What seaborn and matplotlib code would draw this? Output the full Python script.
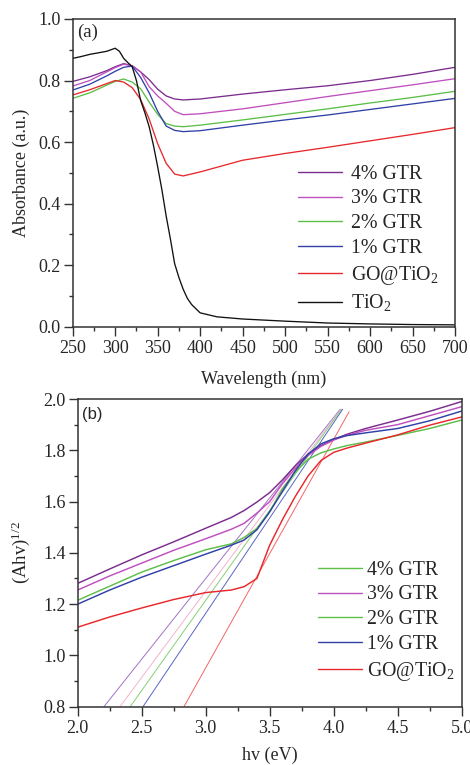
import numpy as np
import pandas as pd
import matplotlib
matplotlib.use("Agg")
import matplotlib.pyplot as plt
import seaborn as sns
from matplotlib.lines import Line2D
from matplotlib.ticker import MultipleLocator, FormatStrFormatter

# ---------------- data: panel (a) ----------------
wl = [250, 270, 290, 300, 310, 320, 330, 340, 350, 360, 370, 380, 400, 450, 500, 550, 600, 650, 700]
abs_4 = [0.797, 0.812, 0.832, 0.845, 0.855, 0.848, 0.828, 0.803, 0.772, 0.750, 0.740, 0.737, 0.740, 0.756, 0.770, 0.783, 0.800, 0.820, 0.843]
abs_3 = [0.782, 0.800, 0.828, 0.842, 0.853, 0.848, 0.828, 0.780, 0.750, 0.726, 0.700, 0.689, 0.692, 0.708, 0.728, 0.748, 0.767, 0.786, 0.806]
abs_2 = [0.742, 0.760, 0.785, 0.797, 0.805, 0.795, 0.773, 0.730, 0.690, 0.660, 0.652, 0.650, 0.655, 0.672, 0.690, 0.708, 0.727, 0.745, 0.765]
abs_1 = [0.769, 0.788, 0.815, 0.830, 0.843, 0.847, 0.810, 0.760, 0.700, 0.652, 0.638, 0.634, 0.637, 0.655, 0.672, 0.688, 0.706, 0.724, 0.742]
abs_go = [0.753, 0.770, 0.790, 0.800, 0.795, 0.777, 0.738, 0.675, 0.595, 0.531, 0.496, 0.490, 0.503, 0.541, 0.563, 0.583, 0.604, 0.625, 0.647]

wl_tio2 = [250, 260, 270, 280, 290, 300, 305, 310, 315, 320, 325, 330, 335, 340, 345, 350, 355, 360,
           365, 370, 375, 380, 385, 390, 400, 420, 450, 500, 550, 600, 650, 700]
abs_tio2 = [0.872, 0.878, 0.885, 0.890, 0.895, 0.905, 0.895, 0.872, 0.858, 0.845, 0.800, 0.735, 0.695, 0.650,
            0.590, 0.520, 0.445, 0.360, 0.285, 0.205, 0.160, 0.122, 0.092, 0.072, 0.045, 0.032, 0.025, 0.018,
            0.012, 0.009, 0.007, 0.006]

labels_a = ["4% GTR", "3% GTR", "2% GTR", "1% GTR", "GO@TiO$_2$", "TiO$_2$"]
colors_a = ["#7B2D8E", "#C04FBF", "#5CBF47", "#3041A8", "#E8282B", "#111111"]

# ---------------- data: panel (b) ----------------
hv = [2.0, 2.25, 2.5, 2.75, 3.0, 3.2, 3.3, 3.4, 3.5, 3.6, 3.7, 3.8, 3.9, 4.0, 4.1, 4.25, 4.5, 4.75, 5.0]
tauc_4 = [1.281, 1.337, 1.392, 1.443, 1.496, 1.538, 1.565, 1.598, 1.635, 1.685, 1.740, 1.785, 1.818, 1.842, 1.862, 1.885, 1.918, 1.952, 1.990]
tauc_3 = [1.255, 1.310, 1.360, 1.410, 1.455, 1.492, 1.515, 1.555, 1.600, 1.670, 1.730, 1.780, 1.815, 1.840, 1.858, 1.878, 1.900, 1.935, 1.970]
tauc_2 = [1.215, 1.270, 1.325, 1.370, 1.412, 1.435, 1.460, 1.495, 1.560, 1.650, 1.715, 1.765, 1.790, 1.805, 1.818, 1.832, 1.858, 1.885, 1.918]
tauc_1 = [1.200, 1.255, 1.305, 1.350, 1.395, 1.430, 1.450, 1.490, 1.560, 1.640, 1.720, 1.785, 1.825, 1.845, 1.857, 1.868, 1.885, 1.915, 1.953]
tauc_go = [1.110, 1.150, 1.185, 1.218, 1.245, 1.255, 1.268, 1.300, 1.430, 1.530, 1.620, 1.700, 1.760, 1.792, 1.808, 1.828, 1.860, 1.898, 1.930]

# linear-fit (tangent) lines: start at y = 0.8 (band gap), end near the top
tan_x0 = [2.205, 2.33, 2.41, 2.51, 2.83]
tan_y0 = [0.8, 0.8, 0.8, 0.8, 0.8]
tan_x1 = [4.05, 4.055, 4.06, 4.07, 4.12]
tan_y1 = [1.96, 1.96, 1.96, 1.96, 1.95]

labels_b = ["4% GTR", "3% GTR", "2% GTR", "1% GTR", "GO@TiO$_2$"]
colors_b = ["#7B2D8E", "#C04FBF", "#5CBF47", "#3041A8", "#E8282B"]
tan_colors = ["#A274C4", "#F3B4CB", "#86CF77", "#5566C2", "#F26666"]
legend_colors_b = ["#5CBF47", "#C04FBF", "#5CBF47", "#3041A8", "#E8282B"]

# ---------------- style ----------------
sns.set_theme(style="ticks")
plt.rcParams["font.family"] = ["Liberation Serif", "DejaVu Serif"]
plt.rcParams["mathtext.fontset"] = "custom"
plt.rcParams["mathtext.rm"] = "Liberation Serif"
plt.rcParams["mathtext.default"] = "regular"

fig = plt.figure(figsize=(4.70, 7.65), dpi=100)
ax1 = fig.add_axes([72.7 / 470, 1 - 326.7 / 765, 382.3 / 470, 307.7 / 765])
ax2 = fig.add_axes([77.7 / 470, 1 - 706.7 / 765, 384.0 / 470, 307.7 / 765])

# panel (a)
series_a = [abs_4, abs_3, abs_2, abs_1, abs_go]
frames = []
for lab, vals in zip(labels_a[:5], series_a):
    frames.append(pd.DataFrame({"wl": wl, "A": vals, "s": lab}))
frames.append(pd.DataFrame({"wl": wl_tio2, "A": abs_tio2, "s": labels_a[5]}))
dfa = pd.concat(frames, ignore_index=True)
sns.lineplot(data=dfa, x="wl", y="A", hue="s", hue_order=labels_a,
             palette=dict(zip(labels_a, colors_a)), estimator=None, sort=False,
             linewidth=0.95, ax=ax1, legend=False)

# panel (b)
series_b = [tauc_4, tauc_3, tauc_2, tauc_1, tauc_go]
dfb = pd.concat([pd.DataFrame({"hv": hv, "T": v, "s": l}) for l, v in zip(labels_b, series_b)],
                ignore_index=True)
tan_rows = []
for l, x0, y0, x1, y1 in zip(labels_b, tan_x0, tan_y0, tan_x1, tan_y1):
    tan_rows.append(pd.DataFrame({"hv": [x0, x1], "T": [y0, y1], "s": l}))
dft = pd.concat(tan_rows, ignore_index=True)
sns.lineplot(data=dft, x="hv", y="T", hue="s", hue_order=labels_b,
             palette=dict(zip(labels_b, tan_colors)), estimator=None, sort=False,
             linewidth=0.7, ax=ax2, legend=False)
sns.lineplot(data=dfb, x="hv", y="T", hue="s", hue_order=labels_b,
             palette=dict(zip(labels_b, colors_b)), estimator=None, sort=False,
             linewidth=1.05, ax=ax2, legend=False)

# axes formatting
for ax in (ax1, ax2):
    for sp in ax.spines.values():
        sp.set_visible(True)
        sp.set_linewidth(1.1)
        sp.set_color("#333333")
    ax.tick_params(which="major", direction="out", length=6.5, width=1.0, color="#333333",
                   labelsize=13, pad=3, top=False, right=False)
    ax.tick_params(which="minor", direction="out", length=3.2, width=1.0, color="#333333",
                   top=False, right=False)
    ax.tick_params(axis="y", which="major", pad=2)

ax1.set_xlim(250, 700)
ax1.set_ylim(0.0, 1.0)
ax1.xaxis.set_major_locator(MultipleLocator(50))
ax1.xaxis.set_minor_locator(MultipleLocator(25))
ax1.yaxis.set_major_locator(MultipleLocator(0.2))
ax1.yaxis.set_minor_locator(MultipleLocator(0.1))
ax1.yaxis.set_major_formatter(FormatStrFormatter("%.1f"))
ax1.set_xlabel("Wavelength (nm)", fontsize=13, labelpad=10)
ax1.set_ylabel("Absorbance (a.u.)", fontsize=13, labelpad=6)
ax1.text(0.012, 0.985, "(a)", transform=ax1.transAxes, fontsize=13.5, va="top", ha="left")

ax2.set_xlim(2.0, 5.0)
ax2.set_ylim(0.8, 2.0)
ax2.xaxis.set_major_locator(MultipleLocator(0.5))
ax2.xaxis.set_minor_locator(MultipleLocator(0.25))
ax2.yaxis.set_major_locator(MultipleLocator(0.2))
ax2.yaxis.set_minor_locator(MultipleLocator(0.1))
ax2.xaxis.set_major_formatter(FormatStrFormatter("%.1f"))
ax2.yaxis.set_major_formatter(FormatStrFormatter("%.1f"))
ax2.set_xlabel("hv (eV)", fontsize=13, labelpad=7)
ax2.set_ylabel("(Ahv)$^{1/2}$", fontsize=13.5, labelpad=8)
ax2.text(0.012, 0.975, "(b)", transform=ax2.transAxes, fontsize=12,
         va="top", ha="left", family=["Liberation Sans", "DejaVu Sans"])

# legends
h_a = [Line2D([], [], color=c, lw=1.0) for c in colors_a]
ax1.legend(h_a, labels_a, loc="upper left", bbox_to_anchor=(0.589, 0.5265), frameon=False,
           fontsize=14.3, handlelength=2.2, handletextpad=0.5, labelspacing=0.29,
           borderpad=0, borderaxespad=0)
h_b = [Line2D([], [], color=c, lw=1.0) for c in legend_colors_b]
ax2.legend(h_b, labels_b, loc="upper left", bbox_to_anchor=(0.626, 0.4745), frameon=False,
           fontsize=14.3, handlelength=2.2, handletextpad=0.25, labelspacing=0.29,
           borderpad=0, borderaxespad=0)

fig.savefig("out.png", dpi=100)
